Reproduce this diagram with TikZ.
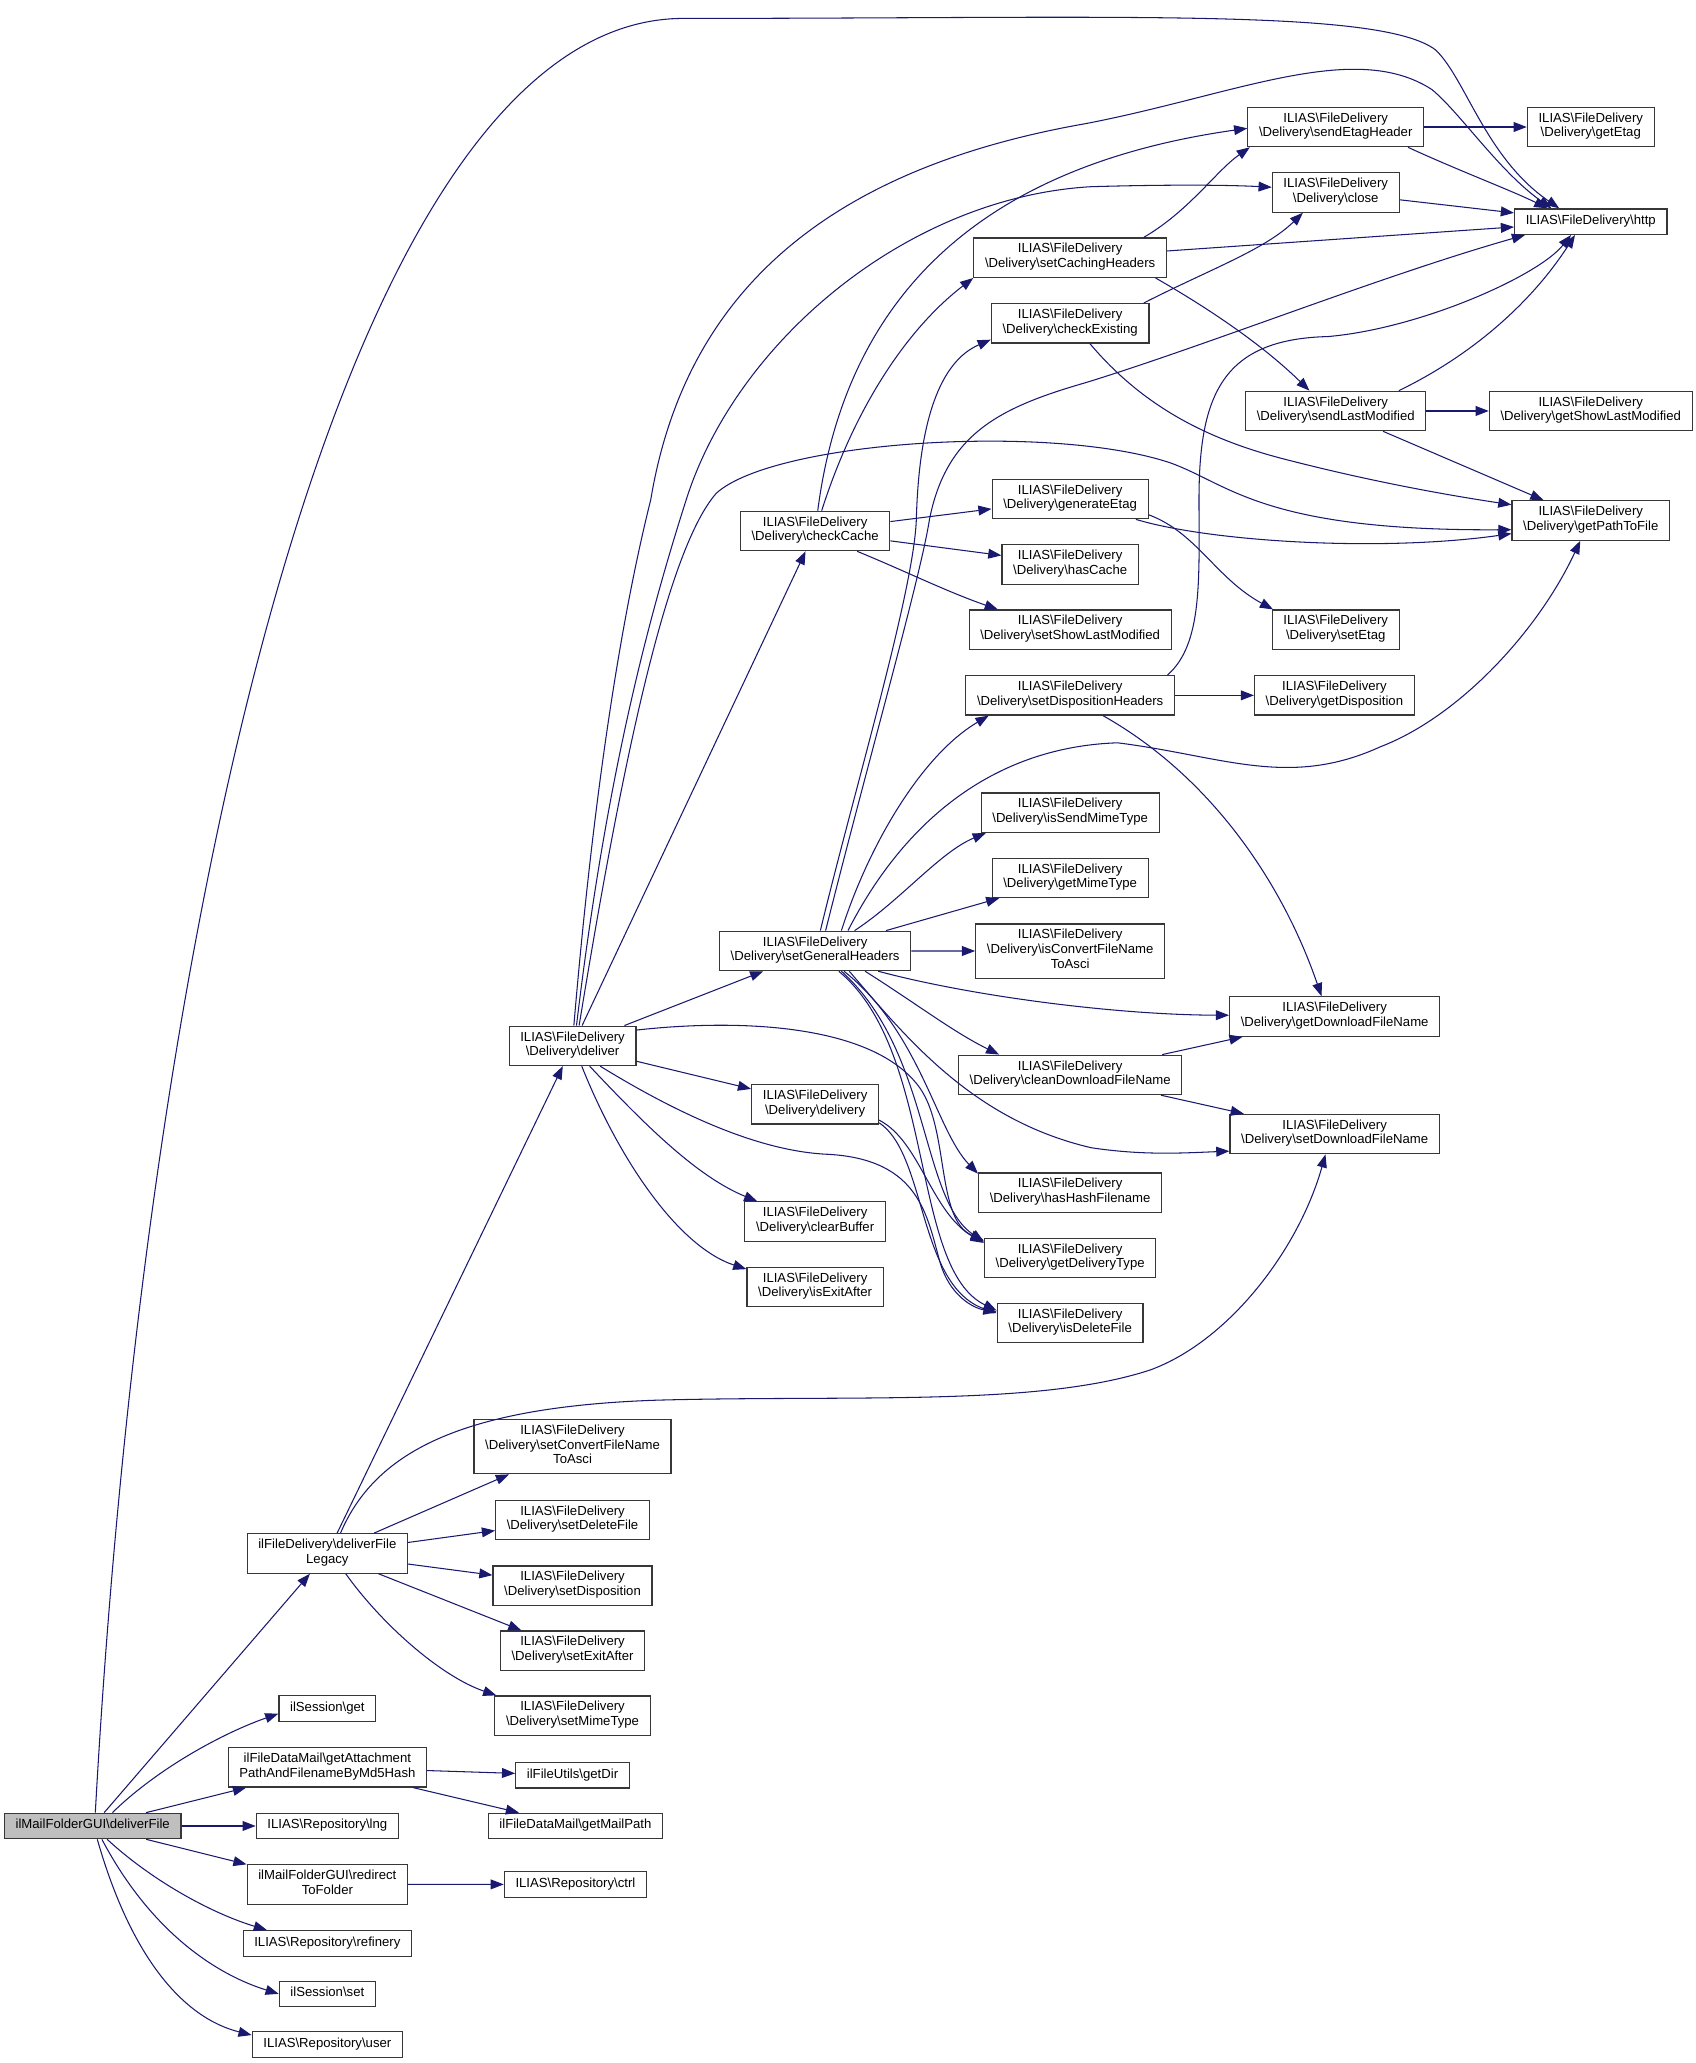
\documentclass[tikz,border=0pt]{standalone}
\usepackage{fontspec}
\setmainfont{Liberation Sans}
\usetikzlibrary{arrows.meta}
\definecolor{edgeblue}{RGB}{25,25,112}
\definecolor{boxline}{RGB}{55,55,55}
\definecolor{rootfill}{RGB}{191,191,191}
\newcommand{\bksl}{\textbackslash}
\newcommand{\fd}{ILIAS\bksl FileDelivery\\\bksl Delivery\bksl}
\begin{document}
\begin{tikzpicture}[x=1pt, y=-1pt]
        % Define styles for shapes
        \tikzstyle{fn} = [draw=boxline, line width=0.9pt, fill=white, align=center, inner xsep=8.5pt, inner ysep=4.1pt, font=\fontsize{10}{11.2}\selectfont, execute at begin node=\strut, execute at end node=\strut]
        \tikzstyle{rootfn} = [fn, fill=rootfill]
        \tikzstyle{edge} = [draw=edgeblue, line width=0.8pt, -{Triangle[length=10pt,width=7.5pt]}]

        \fill[white] (0,0) rectangle (1290,1569.2);

        % Draw shapes
        \node[rootfn] (deliverFile) at (70.5, 1388.9) {ilMailFolderGUI\bksl deliverFile};

        \node[fn] (deliverFileLegacy) at (249, 1181.6) {ilFileDelivery\bksl deliverFile\\Legacy};
        \node[fn] (sessionGet) at (249, 1299.5) {ilSession\bksl get};
        \node[fn] (getAttachment) at (249, 1344.3) {ilFileDataMail\bksl getAttachment\\PathAndFilenameByMd5Hash};
        \node[fn] (lng) at (249, 1388.9) {ILIAS\bksl Repository\bksl lng};
        \node[fn] (redirectToFolder) at (249, 1433.4) {ilMailFolderGUI\bksl redirect\\ToFolder};
        \node[fn] (refinery) at (249, 1478.2) {ILIAS\bksl Repository\bksl refinery};
        \node[fn] (sessionSet) at (249, 1516.6) {ilSession\bksl set};
        \node[fn] (user) at (249, 1555.1) {ILIAS\bksl Repository\bksl user};

        \node[fn] (deliver) at (435.5, 795.5) {\fd deliver};
        \node[fn] (setConvert) at (435.5, 1100.4) {\fd setConvertFileName\\ToAsci};
        \node[fn] (setDeleteFile) at (435.5, 1156.2) {\fd setDeleteFile};
        \node[fn] (setDisposition) at (435.5, 1206.1) {\fd setDisposition};
        \node[fn] (setExitAfter) at (435.5, 1255.6) {\fd setExitAfter};
        \node[fn] (setMimeType) at (435.5, 1305) {\fd setMimeType};
        \node[fn] (getDir) at (435.5, 1350.3) {ilFileUtils\bksl getDir};
        \node[fn] (getMailPath) at (437.7, 1388.9) {ilFileDataMail\bksl getMailPath};
        \node[fn] (ctrl) at (437.7, 1433.3) {ILIAS\bksl Repository\bksl ctrl};

        \node[fn] (checkCache) at (620, 403.9) {\fd checkCache};
        \node[fn] (setGeneralHeaders) at (620, 723.3) {\fd setGeneralHeaders};
        \node[fn] (delivery) at (620, 840) {\fd delivery};
        \node[fn] (clearBuffer) at (620, 929.2) {\fd clearBuffer};
        \node[fn] (isExitAfter) at (620, 978.8) {\fd isExitAfter};

        \node[fn] (setCachingHeaders) at (814, 196) {\fd setCachingHeaders};
        \node[fn] (checkExisting) at (814, 245.9) {\fd checkExisting};
        \node[fn] (generateEtag) at (814, 379.6) {\fd generateEtag};
        \node[fn] (hasCache) at (814, 429.3) {\fd hasCache};
        \node[fn] (setShowLastModified) at (814, 479) {\fd setShowLastModified};
        \node[fn] (setDispositionHeaders) at (814, 528.9) {\fd setDispositionHeaders};
        \node[fn] (isSendMimeType) at (814, 618.2) {\fd isSendMimeType};
        \node[fn] (getMimeType) at (814, 667.7) {\fd getMimeType};
        \node[fn] (isConvert) at (814, 723.4) {\fd isConvertFileName\\ToAsci};
        \node[fn] (cleanDownloadFileName) at (814, 817.6) {\fd cleanDownloadFileName};
        \node[fn] (hasHashFilename) at (814, 907.2) {\fd hasHashFilename};
        \node[fn] (getDeliveryType) at (814, 956.9) {\fd getDeliveryType};
        \node[fn] (isDeleteFile) at (814, 1006.3) {\fd isDeleteFile};

        \node[fn] (sendEtagHeader) at (1016, 96.6) {\fd sendEtagHeader};
        \node[fn] (closeFn) at (1016, 146.4) {\fd close};
        \node[fn] (sendLastModified) at (1016, 312.6) {\fd sendLastModified};
        \node[fn] (setEtag) at (1016, 479) {\fd setEtag};
        \node[fn] (getDisposition) at (1015, 528.9) {\fd getDisposition};
        \node[fn] (getDownloadFileName) at (1015.2, 773.2) {\fd getDownloadFileName};
        \node[fn] (setDownloadFileName) at (1015.2, 862.6) {\fd setDownloadFileName};

        \node[fn] (getEtag) at (1210, 96.6) {\fd getEtag};
        \node[fn] (http) at (1210, 168.6) {ILIAS\bksl FileDelivery\bksl http};
        \node[fn] (getShowLastModified) at (1210, 312.6) {\fd getShowLastModified};
        \node[fn] (getPathToFile) at (1210, 395.9) {\fd getPathToFile};

        % Calls of ilMailFolderGUI\deliverFile
        \draw[edge] ([xshift=2pt]deliverFile.north) .. controls (110,700) and (260,14) .. (520,14) .. controls (850,14) and (1050,6) .. (1092,38) .. controls (1115,60) and (1130,120) .. ([xshift=-24pt]http.north);
        \draw[edge] (deliverFile) -- (deliverFileLegacy);
        \draw[edge] ([xshift=15pt]deliverFile.north) .. controls (120,1345) and (170,1318) .. ([yshift=-4pt]sessionGet.west);
        \draw[edge] (deliverFile) -- (getAttachment);
        \draw[edge] (deliverFile) -- (lng);
        \draw[edge] (deliverFile) -- (redirectToFolder);
        \draw[edge] ([xshift=11pt]deliverFile.south) .. controls (115,1430) and (160,1455) .. ([xshift=-46pt]refinery.north);
        \draw[edge] ([xshift=7pt]deliverFile.south) .. controls (115,1470) and (165,1502) .. (sessionSet.west);
        \draw[edge] ([xshift=3.5pt]deliverFile.south) .. controls (100,1490) and (140,1535) .. ([yshift=-3pt]user.north west);

        % ilFileDelivery\deliverFileLegacy and the others below
        \draw[edge] (deliverFileLegacy) -- (deliver);
        \draw[edge] ([xshift=10pt]deliverFileLegacy.north) .. controls (285,1105) and (350,1070) .. (500,1065) .. controls (650,1061) and (790,1070) .. (875,1042) .. controls (935,1020) and (988,950) .. ([xshift=-7pt]setDownloadFileName.south);
        \draw[edge] (deliverFileLegacy) -- (setConvert);
        \draw[edge] (deliverFileLegacy) -- (setDeleteFile);
        \draw[edge] (deliverFileLegacy) -- (setDisposition);
        \draw[edge] (deliverFileLegacy) -- (setExitAfter);
        \draw[edge] ([xshift=14pt]deliverFileLegacy.south) .. controls (290,1235) and (335,1275) .. ([xshift=-58pt]setMimeType.north);
        \draw[edge] (getAttachment) -- (getDir);
        \draw[edge] (getAttachment) -- (getMailPath);
        \draw[edge] (redirectToFolder) -- (ctrl);

        % Delivery\deliver
        \draw[edge] (deliver) -- (checkCache);
        \draw[edge] (deliver) -- (setGeneralHeaders);
        \draw[edge] (deliver) -- (delivery);
        \draw[edge] ([xshift=13pt]deliver.south) .. controls (490,855) and (530,895) .. ([xshift=-44pt]clearBuffer.north);
        \draw[edge] ([xshift=7pt]deliver.south) .. controls (470,880) and (515,948) .. ([yshift=-2pt]isExitAfter.north west);
        \draw[edge] ([yshift=12pt]deliver.east) .. controls (560,775) and (665,778) .. (700,828) .. controls (722,860) and (712,928) .. ([yshift=-2pt]getDeliveryType.north west);
        \draw[edge] ([xshift=21pt]deliver.south) .. controls (520,850) and (580,876) .. (630,878) .. controls (700,882) and (705,925) .. (715,960) .. controls (722,985) and (740,995) .. ([yshift=-7pt]isDeleteFile.north west);
        \draw[edge] ([xshift=1pt]deliver.north) .. controls (450,620) and (470,480) .. (495,380) .. controls (520,230) and (620,130) .. (826,94) .. controls (940,72) and (1030,30) .. (1089,68) .. controls (1110,85) and (1140,130) .. ([xshift=-30pt]http.north);
        \draw[edge] ([xshift=3pt]deliver.north) .. controls (460,600) and (490,480) .. (522,380) .. controls (560,260) and (690,150) .. (830,142) .. controls (900,140) and (940,141) .. ([yshift=4pt]closeFn.west);
        \draw[edge] ([xshift=5pt]deliver.north) .. controls (470,600) and (505,420) .. (545,375) .. controls (590,335) and (800,322) .. (890,352) .. controls (935,368) and (960,404) .. ([yshift=-7pt]getPathToFile.west);

        % Delivery\checkCache
        \draw[edge] (checkCache) -- (generateEtag);
        \draw[edge] (checkCache) -- (hasCache);
        \draw[edge] ([xshift=32pt]checkCache.south) .. controls (690,435) and (720,450) .. ([xshift=-55pt]setShowLastModified.north);
        \draw[edge] ([xshift=5pt]checkCache.north) .. controls (650,310) and (690,250) .. (setCachingHeaders.south west);
        \draw[edge] ([xshift=2pt]checkCache.north) .. controls (640,250) and (720,130) .. ([yshift=-1pt]sendEtagHeader.west);

        % Delivery\setGeneralHeaders
        \draw[edge] ([xshift=4pt]setGeneralHeaders.north) .. controls (650,600) and (695,450) .. (697,395) .. controls (699,320) and (715,275) .. ([yshift=3pt]checkExisting.south west);
        \draw[edge] ([xshift=8pt]setGeneralHeaders.north) .. controls (660,580) and (700,440) .. (707,395) .. controls (720,330) and (760,310) .. (826,291) .. controls (920,262) and (1050,210) .. ([xshift=-50pt]http.south);
        \draw[edge] ([xshift=20pt]setGeneralHeaders.north) .. controls (660,645) and (700,575) .. ([xshift=-62pt]setDispositionHeaders.south);
        \draw[edge] ([xshift=25pt]setGeneralHeaders.north) .. controls (690,620) and (760,568) .. (850,565) .. controls (930,575) and (980,600) .. (1050,568) .. controls (1110,545) and (1170,480) .. ([xshift=-8pt]getPathToFile.south);
        \draw[edge] ([xshift=30pt]setGeneralHeaders.north) .. controls (685,685) and (715,648) .. ([xshift=4pt]isSendMimeType.south west);
        \draw[edge] (setGeneralHeaders) -- (getMimeType);
        \draw[edge] (setGeneralHeaders) -- (isConvert);
        \draw[edge] ([xshift=48pt]setGeneralHeaders.south) .. controls (740,758) and (850,772) .. ([yshift=1pt]getDownloadFileName.west);
        \draw[edge] ([xshift=38pt]setGeneralHeaders.south) .. controls (695,762) and (725,785) .. ([xshift=-54pt]cleanDownloadFileName.north);
        \draw[edge] ([xshift=26pt]setGeneralHeaders.south) .. controls (690,790) and (740,852) .. (830,873) .. controls (870,879) and (900,877) .. ([yshift=-13pt]setDownloadFileName.west);
        \draw[edge] ([xshift=22pt]setGeneralHeaders.south) .. controls (700,785) and (712,860) .. ([yshift=-1pt]hasHashFilename.north west);
        \draw[edge] ([xshift=20pt]setGeneralHeaders.south) .. controls (708,800) and (700,912) .. ([yshift=-3pt]getDeliveryType.north west);
        \draw[edge] ([xshift=18pt]setGeneralHeaders.south) .. controls (712,800) and (692,965) .. ([yshift=-6pt]isDeleteFile.north west);

        % Delivery\delivery
        \draw[edge] ([yshift=-12pt]delivery.east) .. controls (700,868) and (708,922) .. ([yshift=-4pt]getDeliveryType.north west);
        \draw[edge] ([yshift=-14pt]delivery.east) .. controls (705,878) and (698,978) .. ([yshift=-8pt]isDeleteFile.north west);

        % third column
        \draw[edge] ([xshift=56pt]setCachingHeaders.north) .. controls (905,160) and (925,130) .. ([xshift=2pt]sendEtagHeader.south west);
        \draw[edge] (setCachingHeaders) -- (http);
        \draw[edge] ([xshift=65pt]setCachingHeaders.south) .. controls (920,235) and (960,262) .. ([xshift=-20pt]sendLastModified.north);
        \draw[edge] ([xshift=56pt]checkExisting.north) .. controls (920,205) and (962,190) .. ([xshift=-25pt]closeFn.south);
        \draw[edge] ([xshift=15pt]checkExisting.south) .. controls (870,310) and (920,335) .. (980,350) .. controls (1050,368) and (1110,378) .. ([yshift=12pt]getPathToFile.west);
        \draw[edge] ([xshift=50pt]generateEtag.south) .. controls (920,412) and (1050,420) .. ([yshift=-10pt]getPathToFile.west);
        \draw[edge] ([yshift=-12pt]generateEtag.east) .. controls (910,405) and (925,440) .. ([xshift=1pt]setEtag.north west);
        \draw[edge] ([xshift=74pt]setDispositionHeaders.north) .. controls (915,490) and (912,440) .. (912,380) .. controls (912,300) and (930,258) .. (1010,256) .. controls (1080,250) and (1170,210) .. ([xshift=-15pt]http.south);
        \draw[edge] (setDispositionHeaders) -- (getDisposition);
        \draw[edge] ([xshift=25pt]setDispositionHeaders.south) .. controls (920,590) and (975,670) .. ([xshift=-10pt]getDownloadFileName.north);
        \draw[edge] (cleanDownloadFileName) -- (getDownloadFileName);
        \draw[edge] (cleanDownloadFileName) -- (setDownloadFileName);

        % fourth column
        \draw[edge] (sendEtagHeader) -- (getEtag);
        \draw[edge] ([xshift=55pt]sendEtagHeader.south) .. controls (1110,130) and (1150,145) .. ([xshift=-33pt]http.north);
        \draw[edge] (closeFn) -- (http);
        \draw[edge] ([xshift=48pt]sendLastModified.north) .. controls (1120,270) and (1165,230) .. ([xshift=-12pt]http.south);
        \draw[edge] (sendLastModified) -- (getShowLastModified);
        \draw[edge] (sendLastModified) -- (getPathToFile);
    \end{tikzpicture}
\end{document}
